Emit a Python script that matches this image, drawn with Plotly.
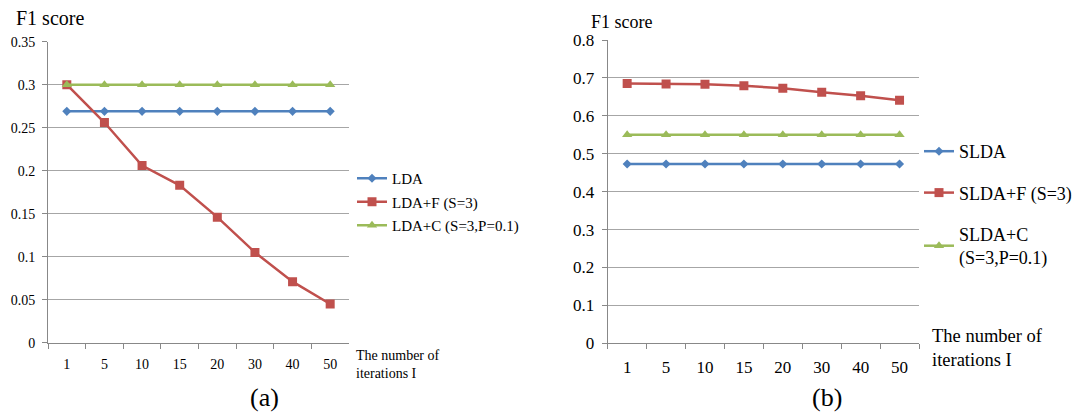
import plotly.graph_objects as go

# Iteration counts (categorical x axis)
iterations = ["1", "5", "10", "15", "20", "30", "40", "50"]

# Panel (a): LDA-based models
lda = [0.269, 0.269, 0.269, 0.269, 0.269, 0.269, 0.269, 0.269]
lda_f = [0.300, 0.256, 0.206, 0.183, 0.146, 0.105, 0.071, 0.045]
lda_c = [0.300, 0.300, 0.300, 0.300, 0.300, 0.300, 0.300, 0.300]

# Panel (b): SLDA-based models
slda = [0.473, 0.473, 0.473, 0.473, 0.473, 0.473, 0.473, 0.473]
slda_f = [0.685, 0.684, 0.683, 0.679, 0.673, 0.662, 0.653, 0.641]
slda_c = [0.550, 0.550, 0.550, 0.550, 0.550, 0.550, 0.550, 0.550]

yticks_a = [0, 0.05, 0.1, 0.15, 0.2, 0.25, 0.3, 0.35]
yticks_b = [0, 0.1, 0.2, 0.3, 0.4, 0.5, 0.6, 0.7, 0.8]

BLUE = "#4F81BD"
RED = "#C0504D"
GREEN = "#9BBB59"
FONT = '"Liberation Serif", "Times New Roman", Times, serif'
W, H = 1082, 412

fig = go.Figure()

def add_series(x, y, name, color, symbol, size, xa, ya, legend, group):
    fig.add_trace(go.Scatter(
        x=x, y=y, name=name, mode="lines+markers",
        line=dict(color=color, width=2.5),
        marker=dict(symbol=symbol, size=size, color=color),
        xaxis=xa, yaxis=ya, legend=legend, legendgroup=group,
    ))

add_series(iterations, lda, "LDA", BLUE, "diamond", 7, "x", "y", "legend", "a1")
add_series(iterations, lda_f, "LDA+F (S=3)", RED, "square", 9, "x", "y", "legend", "a2")
add_series(iterations, lda_c, "LDA+C (S=3,P=0.1)", GREEN, "triangle-up", 9, "x", "y", "legend", "a3")

add_series(iterations, slda, "SLDA", BLUE, "diamond", 7, "x2", "y2", "legend2", "b1")
add_series(iterations, slda_f, "SLDA+F (S=3)", RED, "square", 9, "x2", "y2", "legend2", "b2")
add_series(iterations, slda_c, "SLDA+C<br>(S=3,P=0.1)", GREEN, "triangle-up", 9, "x2", "y2", "legend2", "b3")

def px_x(v):
    return v / W

def px_y(v):
    return 1 - v / H

xcommon = dict(
    type="category", range=[-0.5, 7.5], tickson="boundaries",
    ticks="outside", ticklen=5, tickcolor="#888888", ticklabelstandoff=8,
    showline=True, linecolor="#888888", linewidth=1,
    showgrid=False, zeroline=False, fixedrange=True, automargin=False,
)
ycommon = dict(
    ticks="outside", ticklen=5, tickcolor="#888888", ticklabelstandoff=4,
    showline=True, linecolor="#888888", linewidth=1,
    showgrid=True, gridcolor="#A6A6A6", gridwidth=1,
    zeroline=False, fixedrange=True, automargin=False,
)

fig.update_layout(
    width=W, height=H,
    margin=dict(l=0, r=0, t=0, b=0, autoexpand=False),
    paper_bgcolor="white", plot_bgcolor="white",
    font=dict(family=FONT, color="#000000"),
    xaxis=dict(domain=[px_x(48), px_x(349)], anchor="y",
               tickfont=dict(family=FONT, size=14, color="#000000"), **xcommon),
    yaxis=dict(domain=[px_y(342.7), px_y(41.7)], anchor="x", range=[0, 0.35],
               tickvals=yticks_a, ticktext=[f"{v:g}" for v in yticks_a],
               tickfont=dict(family=FONT, size=14), **ycommon),
    xaxis2=dict(domain=[px_x(607.7), px_x(919)], anchor="y2",
                tickfont=dict(family=FONT, size=17, color="#000000"), **xcommon),
    yaxis2=dict(domain=[px_y(343.3), px_y(40)], anchor="x2", range=[0, 0.8],
                tickvals=yticks_b, ticktext=[f"{v:g}" for v in yticks_b],
                tickfont=dict(family=FONT, size=17), **ycommon),
    legend=dict(x=px_x(352), y=px_y(162), xanchor="left", yanchor="top",
                font=dict(family=FONT, size=15), tracegroupgap=1,
                bgcolor="rgba(0,0,0,0)", itemwidth=30),
    legend2=dict(x=px_x(919), y=px_y(133), xanchor="left", yanchor="top",
                 font=dict(family=FONT, size=18), tracegroupgap=15,
                 bgcolor="rgba(0,0,0,0)", itemwidth=30),
    showlegend=True,
)

annotations = [
    dict(text="F1 score", x=px_x(14), y=px_y(18), size=20),
    dict(text="F1 score", x=px_x(589), y=px_y(22), size=18),
    dict(text="The number of<br>iterations I", x=px_x(354), y=px_y(364), size=14),
    dict(text="The number of<br>iterations I", x=px_x(930), y=px_y(348), size=18.5),
    dict(text="(a)", x=px_x(248), y=px_y(397), size=26),
    dict(text="(b)", x=px_x(810), y=px_y(397), size=26),
]
for a in annotations:
    fig.add_annotation(
        text=a["text"], x=a["x"], y=a["y"], xref="paper", yref="paper",
        xanchor="left", yanchor="middle", showarrow=False, align="left",
        font=dict(family=FONT, size=a["size"], color="#000000"),
    )

fig.write_html("out.html")
